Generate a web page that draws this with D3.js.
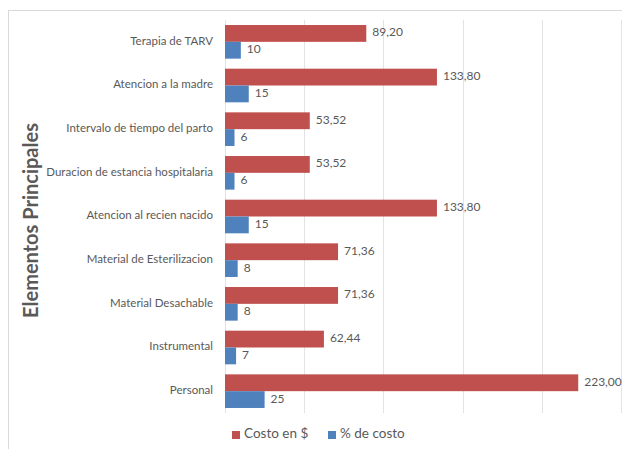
<!DOCTYPE html>
<html>
<head>
<meta charset="utf-8">
<script src="https://cdn.jsdelivr.net/npm/d3@7"></script>
<style>
  body { margin: 0; background: #fff; }
  svg text { font-family: Lato, "Open Sans", sans-serif; fill: #595959; }
</style>
</head>
<body>
<div id="chart"></div>
<script>
(function () {
    // categories, top to bottom
    const categories = [
        "Terapia de TARV",
        "Atencion a la madre",
        "Intervalo de tiempo del parto",
        "Duracion de estancia hospitalaria",
        "Atencion al recien nacido",
        "Material de Esterilizacion",
        "Material Desachable",
        "Instrumental",
        "Personal"
    ];
    const costo = [89.20, 133.80, 53.52, 53.52, 133.80, 71.36, 71.36, 62.44, 223.00];
    const porcentaje = [10, 15, 6, 6, 15, 8, 8, 7, 25];
    const seriesNames = ["Costo en $", "% de costo"];
    const seriesColors = ["#C0504D", "#4F81BD"];
    const xTicks = [0, 50, 100, 150, 200, 250];

    const width = 622, height = 449;
    const plot = { left: 225, right: 621, top: 20, bottom: 413 };

    const svg = d3.select("#chart").append("svg")
        .attr("width", width)
        .attr("height", height);

    // light chart frame
    svg.append("rect")
        .attr("x", 8.5).attr("y", 10.5)
        .attr("width", 640).attr("height", 460)
        .attr("fill", "none")
        .attr("stroke", "#d9d9d9");

    const x = d3.scaleLinear().domain([0, 250]).range([plot.left, plot.right]);
    const y = d3.scaleBand().domain(categories).range([plot.top, plot.bottom]).paddingInner(0.23).paddingOuter(0.115);
    const ySub = d3.scaleBand().domain([0, 1]).range([0, y.bandwidth()]);

    // gridlines
    svg.append("g")
        .selectAll("line")
        .data(xTicks)
        .join("line")
        .attr("x1", d => Math.round(x(d)) + 0.5)
        .attr("x2", d => Math.round(x(d)) + 0.5)
        .attr("y1", plot.top)
        .attr("y2", plot.bottom)
        .attr("stroke", "#e3e3e3");

    // category labels
    svg.append("g")
        .selectAll("text")
        .data(categories)
        .join("text")
        .attr("x", plot.left - 12)
        .attr("y", d => y(d) + y.bandwidth() / 2)
        .attr("text-anchor", "end")
        .attr("dominant-baseline", "middle")
        .style("font-size", "11.5px")
        .text(d => d);

    const fmt = v => d3.format(".2f")(v).replace(".", ",");
    const series = [
        { values: costo, label: fmt },
        { values: porcentaje, label: v => String(v) }
    ];

    series.forEach((s, si) => {
        const g = svg.append("g");
        g.selectAll("rect")
            .data(s.values)
            .join("rect")
            .attr("x", x(0))
            .attr("y", (d, i) => y(categories[i]) + ySub(si))
            .attr("width", d => x(d) - x(0))
            .attr("height", ySub.bandwidth())
            .attr("fill", seriesColors[si]);
        g.selectAll("text")
            .data(s.values)
            .join("text")
            .attr("x", d => x(d) + 6)
            .attr("y", (d, i) => y(categories[i]) + ySub(si) + ySub.bandwidth() / 2)
            .attr("dominant-baseline", "middle")
            .style("font-size", "12px")
            .text(d => s.label(d));
    });

    // y axis title
    svg.append("text")
        .attr("transform", "translate(33," + ((plot.top + plot.bottom) / 2 + 4) + ") rotate(-90)")
        .attr("text-anchor", "middle")
        .attr("dominant-baseline", "middle")
        .style("font-size", "20px")
        .style("font-weight", "bold")
        .text("Elementos Principales");

    // legend
    const legend = svg.append("g");
    const legendX = [232, 328];
    seriesNames.forEach((name, i) => {
        legend.append("rect")
            .attr("x", legendX[i]).attr("y", 431)
            .attr("width", 8).attr("height", 8)
            .attr("fill", seriesColors[i]);
        legend.append("text")
            .attr("x", legendX[i] + 12).attr("y", 435)
            .attr("dominant-baseline", "middle")
            .style("font-size", "13.5px")
            .text(name);
    });
})();
</script>
</body>
</html>
